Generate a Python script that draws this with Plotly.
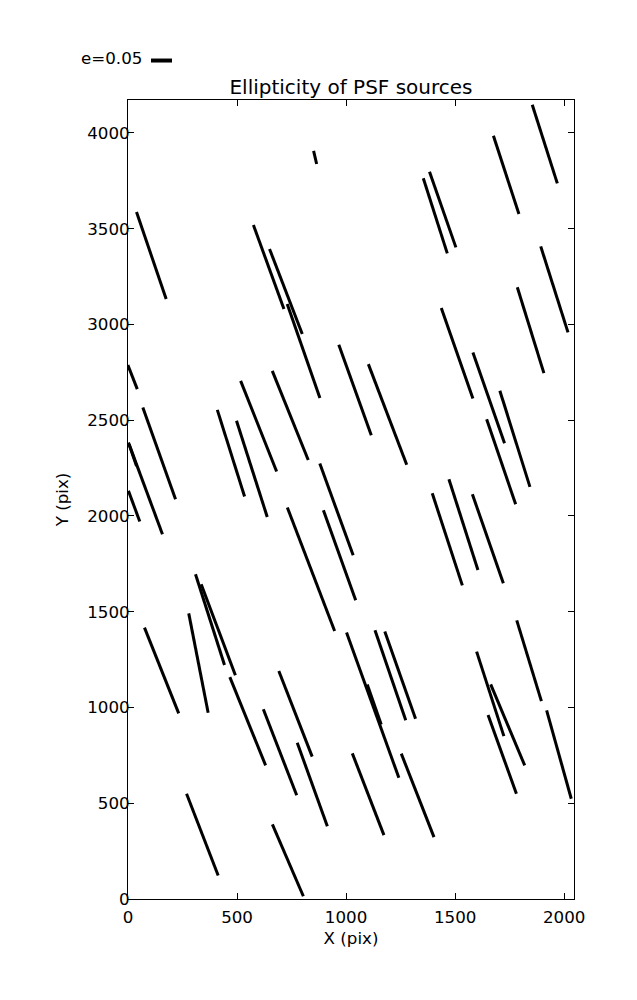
import plotly.graph_objects as go

# Source positions (pix) and ellipticity vector components
src_x = [858, 107, 645, 724, 805, 1409, 1443, 1734, 1911, 1955,
         1846, 1509, 1654, 1774, 1711, 1041, 1190, 21, 143, 80,
         22, 28, 472, 568, 599, 744, 956, 839, 970, 1464,
         1538, 1650, 376, 414, 323, 154, 549, 768, 1122, 1129,
         1203, 1248, 1661, 1741, 1839, 697, 845, 1101, 1328, 1716,
         1976, 341, 733]
src_y = [3872, 3360, 3300, 3172, 2861, 3567, 3600, 3781, 3942, 3183,
         2970, 2850, 2617, 2403, 2283, 2658, 2530, 2725, 2327, 2144,
         2318, 2051, 2328, 2246, 2469, 2525, 2034, 1722, 1795, 1878,
         1955, 1881, 1459, 1406, 1232, 1193, 928, 967, 1012, 1016,
         1168, 1169, 1071, 909, 1244, 766, 598, 547, 541, 755,
         754, 336, 202]
e_x = [0.0014, 0.0136, 0.0140, 0.0150, 0.0150, 0.0110, 0.0121, 0.0117, 0.0115, 0.0125,
       0.0122, 0.0145, 0.0145, 0.0138, 0.0133, 0.0149, 0.0176, 0.0043, 0.0150, 0.0156,
       0.0034, 0.0052, 0.0125, 0.0141, 0.0165, 0.0165, 0.0153, 0.0217, 0.0148, 0.0138,
       0.0133, 0.0142, 0.0133, 0.0157, 0.0089, 0.0157, 0.0164, 0.0153, 0.0240, 0.0064,
       0.0141, 0.0141, 0.0125, 0.0156, 0.0113, 0.0153, 0.0138, 0.0145, 0.0150, 0.0130,
       0.0113, 0.0145, 0.0142]
e_y = [-0.0068, -0.0455, -0.0439, -0.0444, -0.0491, -0.0392, -0.0395, -0.0409, -0.0411, -0.0449,
       -0.0448, -0.0472, -0.0474, -0.0502, -0.0444, -0.0472, -0.0526, -0.0125, -0.0479, -0.0479,
       -0.0113, -0.0160, -0.0452, -0.0502, -0.0473, -0.0465, -0.0479, -0.0645, -0.0470, -0.0481,
       -0.0474, -0.0465, -0.0474, -0.0475, -0.0519, -0.0448, -0.0461, -0.0447, -0.0758, -0.0209,
       -0.0470, -0.0455, -0.0441, -0.0423, -0.0422, -0.0449, -0.0436, -0.0427, -0.0436, -0.0411,
       -0.0461, -0.0427, -0.0375]

SCALE = 10000.0  # whisker length (pix) per unit ellipticity
x_range = [0, 2045]
y_range = [0, 4172]
x_ticks = [0, 500, 1000, 1500, 2000]
y_ticks = [0, 500, 1000, 1500, 2000, 2500, 3000, 3500, 4000]

xs, ys = [], []
for x, y, ex, ey in zip(src_x, src_y, e_x, e_y):
    hx, hy = 0.5 * SCALE * ex, 0.5 * SCALE * ey
    xs += [x - hx, x + hx, None]
    ys += [y - hy, y + hy, None]

FONT = "DejaVu Sans"
FS = 16.7

fig = go.Figure()
fig.add_trace(go.Scatter(x=xs, y=ys, mode="lines",
                         line=dict(color="black", width=3),
                         showlegend=False, hoverinfo="skip"))

axis_common = dict(showline=True, linecolor="black", linewidth=1, mirror="allticks",
                   ticks="inside", ticklen=6, tickwidth=1, tickcolor="black",
                   showgrid=False, zeroline=False,
                   tickfont=dict(family=FONT, size=FS, color="black"))

fig.update_xaxes(range=x_range, tickvals=x_ticks, ticktext=[str(t) for t in x_ticks],
                 ticklabelstandoff=3,
                 title=dict(text="X (pix)", font=dict(family=FONT, size=FS, color="black"), standoff=6),
                 **axis_common)
fig.update_yaxes(range=y_range, tickvals=y_ticks, ticktext=[str(t) for t in y_ticks],
                 ticklabelstandoff=-6,
                 title=dict(text="Y (pix)", font=dict(family=FONT, size=FS, color="black"), standoff=14),
                 **axis_common)

# key: label + reference whisker
fig.add_annotation(xref="paper", yref="paper", x=0.036, y=1.0522, xanchor="right", yanchor="middle",
                   text="e=0.05", showarrow=False, font=dict(family=FONT, size=FS, color="black"))
fig.add_shape(type="line", xref="paper", yref="paper", x0=0.0516, x1=0.0987, y0=1.0494, y1=1.0494,
              line=dict(color="black", width=4))

# page body adds an 8px offset; margins compensate so the plot area sits at 128..574 x 100..899
fig.update_layout(
    width=629, height=992,
    margin=dict(l=120, r=63, t=92, b=101, autoexpand=False),
    paper_bgcolor="white", plot_bgcolor="white",
    title=dict(text="Ellipticity of PSF sources", x=0.5, xref="paper", xanchor="center",
               y=0.9204, yref="container", yanchor="middle",
               font=dict(family=FONT, size=20, color="black")),
    showlegend=False,
)

fig.write_html("out.html")
